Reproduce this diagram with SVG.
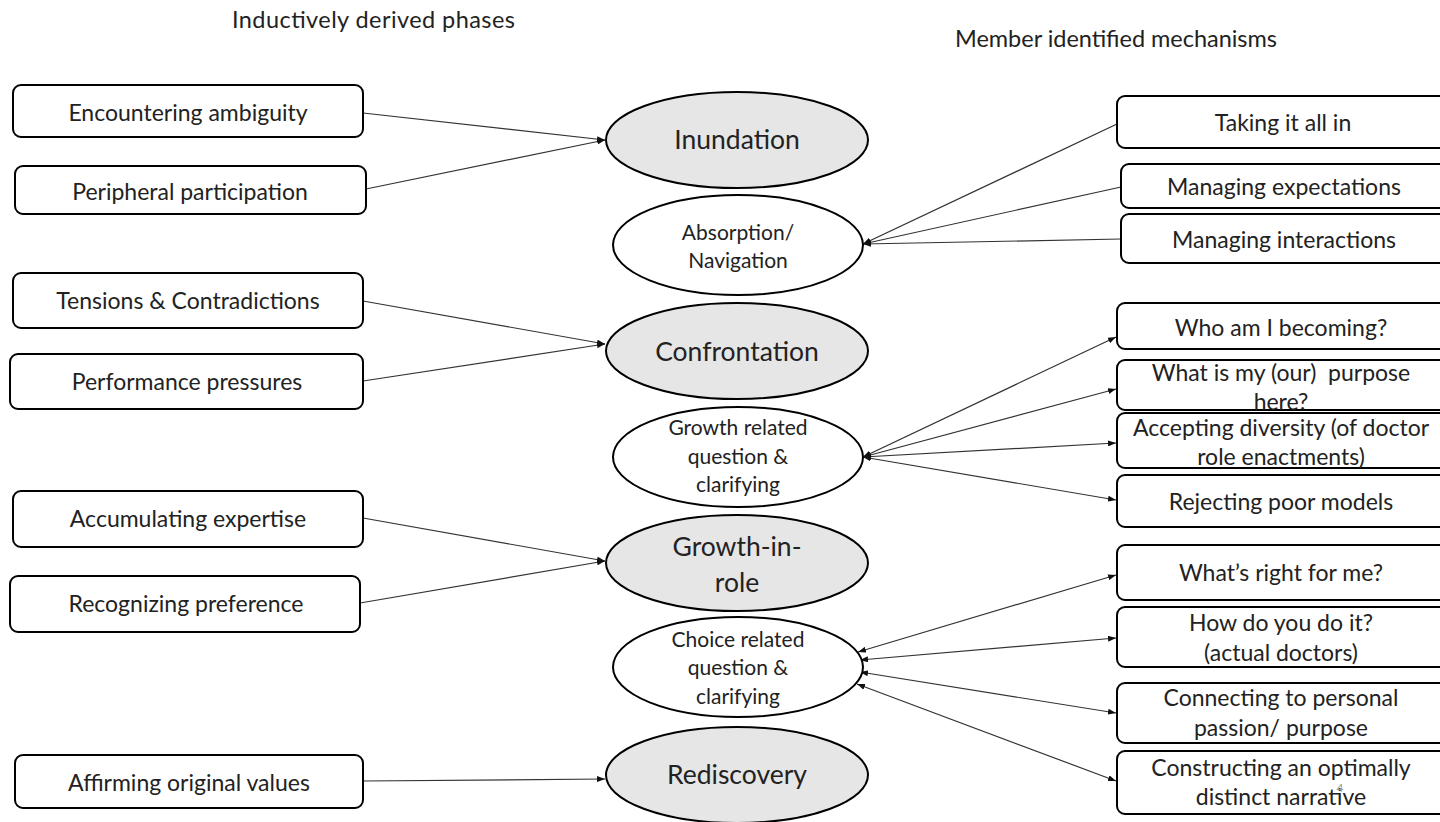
<svg xmlns="http://www.w3.org/2000/svg" width="1440" height="822" viewBox="0 0 1440 822">
<style>
text{font-family:Lato,"Liberation Sans",sans-serif;fill:#222;text-anchor:middle}
.box{fill:#fff;stroke:#000;stroke-width:2}
.ph{fill:#e6e6e6;stroke:#000;stroke-width:2}
.mid{fill:#fff;stroke:#000;stroke-width:2}
.t{font-size:23px}
.big{font-size:26.5px}
.sm{font-size:21px}
.hdr{font-size:23.5px;text-anchor:start}
.c{fill:none;stroke:#333;stroke-width:1.2}
</style>
<defs>
<marker id="ah" viewBox="0 0 8 6" refX="8" refY="3" markerWidth="8" markerHeight="6" markerUnits="userSpaceOnUse" orient="auto-start-reverse">
<path d="M0,0 L8,3 L0,6 z" fill="#111"/>
</marker>
</defs>
<rect width="1440" height="822" fill="#fff"/>
<g id="headers">
<text class="hdr" x="232" y="28" textLength="283">Inductively derived phases</text>
<text class="hdr" x="955" y="47" textLength="322">Member identified mechanisms</text>
</g>
<g id="connectors">
<path class="c" d="M363,113 L605,140" marker-end="url(#ah)"/>
<path class="c" d="M366,189 L605,140" marker-end="url(#ah)"/>
<path class="c" d="M363,301 L605,344" marker-end="url(#ah)"/>
<path class="c" d="M363,381 L605,344" marker-end="url(#ah)"/>
<path class="c" d="M363,518 L605,561" marker-end="url(#ah)"/>
<path class="c" d="M360,603 L605,561" marker-end="url(#ah)"/>
<path class="c" d="M363,781 L605,779" marker-end="url(#ah)"/>
<path class="c" d="M1117,124 L863,244" marker-end="url(#ah)"/>
<path class="c" d="M1121,187 L863,244" marker-end="url(#ah)"/>
<path class="c" d="M1121,239 L863,244" marker-end="url(#ah)"/>
<path class="c" d="M863,457 L1116,337" marker-start="url(#ah)" marker-end="url(#ah)"/>
<path class="c" d="M863,457 L1116,389" marker-start="url(#ah)" marker-end="url(#ah)"/>
<path class="c" d="M863,457 L1116,443" marker-start="url(#ah)" marker-end="url(#ah)"/>
<path class="c" d="M863,457 L1116,500" marker-start="url(#ah)" marker-end="url(#ah)"/>
<path class="c" d="M858,652 L1116,575" marker-start="url(#ah)" marker-end="url(#ah)"/>
<path class="c" d="M860,660 L1116,638" marker-start="url(#ah)" marker-end="url(#ah)"/>
<path class="c" d="M860,672 L1116,713" marker-start="url(#ah)" marker-end="url(#ah)"/>
<path class="c" d="M857,684 L1116,781" marker-start="url(#ah)" marker-end="url(#ah)"/>
</g>
<g id="n-encountering"><rect class="box" x="13" y="85" width="350" height="52" rx="8"/><text class="t" x="188" y="121">Encountering ambiguity</text></g>
<g id="n-peripheral"><rect class="box" x="15" y="166" width="351" height="48" rx="8"/><text class="t" x="190" y="200">Peripheral participation</text></g>
<g id="n-tensions"><rect class="box" x="13" y="273" width="350" height="55" rx="8"/><text class="t" x="188" y="309">Tensions &amp; Contradictions</text></g>
<g id="n-performance"><rect class="box" x="10" y="354" width="353" height="55" rx="8"/><text class="t" x="187" y="390">Performance pressures</text></g>
<g id="n-accumulating"><rect class="box" x="13" y="491" width="350" height="56" rx="8"/><text class="t" x="188" y="527">Accumulating expertise</text></g>
<g id="n-recognizing"><rect class="box" x="10" y="576" width="350" height="56" rx="8"/><text class="t" x="186" y="612">Recognizing preference</text></g>
<g id="n-affirming"><rect class="box" x="15" y="755" width="348" height="53" rx="8"/><text class="t" x="189" y="791">Affirming original values</text></g>

<g id="n-inundation"><ellipse class="ph" cx="737" cy="140" rx="131" ry="48"/><text class="big" x="737" y="149">Inundation</text></g>
<g id="n-absorption"><ellipse class="mid" cx="738" cy="245" rx="125" ry="50"/><text class="sm" x="738" y="240">Absorption/</text><text class="sm" x="738" y="268">Navigation</text></g>
<g id="n-confrontation"><ellipse class="ph" cx="737" cy="351" rx="131" ry="48"/><text class="big" x="737" y="361">Confrontation</text></g>
<g id="n-growthq"><ellipse class="mid" cx="738" cy="457" rx="125" ry="50"/><text class="sm" x="738" y="435">Growth related</text><text class="sm" x="738" y="464">question &amp;</text><text class="sm" x="738" y="492">clarifying</text></g>
<g id="n-growthrole"><ellipse class="ph" cx="737" cy="563" rx="131" ry="48"/><text class="big" x="737" y="556">Growth-in-</text><text class="big" x="737" y="592">role</text></g>
<g id="n-choice"><ellipse class="mid" cx="738" cy="667" rx="125" ry="50"/><text class="sm" x="738" y="647">Choice related</text><text class="sm" x="738" y="675">question &amp;</text><text class="sm" x="738" y="704">clarifying</text></g>
<g id="n-rediscovery"><ellipse class="ph" cx="737" cy="775" rx="131" ry="48"/><text class="big" x="737" y="784">Rediscovery</text></g>

<g id="n-taking"><rect class="box" x="1117" y="96" width="335" height="52" rx="8"/><text class="t" x="1283" y="131">Taking it all in</text></g>
<g id="n-expectations"><rect class="box" x="1121" y="164" width="331" height="44" rx="8"/><text class="t" x="1284" y="195">Managing expectations</text></g>
<g id="n-interactions"><rect class="box" x="1121" y="214" width="331" height="49" rx="8"/><text class="t" x="1284" y="248">Managing interactions</text></g>
<g id="n-whoami"><rect class="box" x="1117" y="303" width="335" height="46" rx="8"/><text class="t" x="1281" y="336">Who am I becoming?</text></g>
<g id="n-purpose"><rect class="box" x="1117" y="360" width="335" height="50" rx="8"/><text class="t" x="1281" y="381" xml:space="preserve">What is my (our)  purpose</text><text class="t" x="1281" y="410">here?</text></g>
<g id="n-diversity"><rect class="box" x="1117" y="413" width="335" height="55" rx="8"/><text class="t" x="1281" y="436">Accepting diversity (of doctor</text><text class="t" x="1281" y="465">role enactments)</text></g>
<g id="n-rejecting"><rect class="box" x="1117" y="475" width="335" height="52" rx="8"/><text class="t" x="1281" y="510">Rejecting poor models</text></g>
<g id="n-right"><rect class="box" x="1117" y="545" width="335" height="55" rx="8"/><text class="t" x="1281" y="581">What’s right for me?</text></g>
<g id="n-howdo"><rect class="box" x="1117" y="607" width="335" height="60" rx="8"/><text class="t" x="1281" y="631">How do you do it?</text><text class="t" x="1281" y="661">(actual doctors)</text></g>
<g id="n-connecting"><rect class="box" x="1117" y="683" width="335" height="60" rx="8"/><text class="t" x="1281" y="706">Connecting to personal</text><text class="t" x="1281" y="736">passion/ purpose</text></g>
<g id="n-constructing"><rect class="box" x="1117" y="751" width="335" height="63" rx="8"/><text class="t" x="1281" y="776">Constructing an optimally</text><text class="t" x="1281" y="805">distinct narrative</text></g>
<text x="1340" y="792" style="font-size:12px;fill:#999">4</text>
</svg>
